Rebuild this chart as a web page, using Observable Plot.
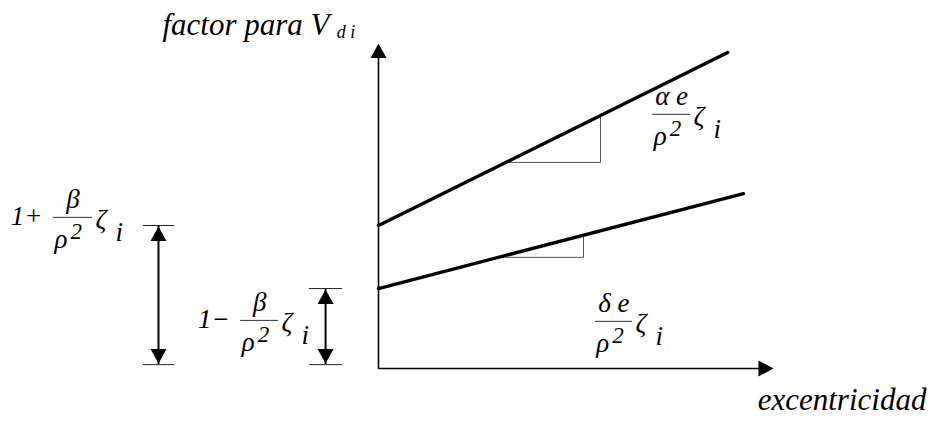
<!DOCTYPE html>
<html>
<head>
<meta charset="utf-8">
<script src="https://cdn.jsdelivr.net/npm/d3@7"></script>
<script src="https://cdn.jsdelivr.net/npm/@observablehq/plot@0.6"></script>
<style>
  html, body { margin: 0; padding: 0; background: #fff; }
  #chart svg { display: block; }
  #chart svg text { font-family: "Liberation Serif", "Times New Roman", "DejaVu Serif", serif !important; font-style: italic; }
</style>
</head>
<body>
<div id="chart"></div>
<script>
// ---- data (axis origin = 0, arrow tips = 100) ----
const upperLineX = [0, 88.4];
const upperLineY = [44.0, 97.2];
const lowerLineX = [0, 92.4];
const lowerLineY = [24.6, 53.8];

const upperSlopeX = [32.2, 56.2, 56.2];
const upperSlopeY = [63.4, 63.4, 77.8];
const lowerSlopeX = [30.4, 51.9, 51.9];
const lowerSlopeY = [34.2, 34.2, 41.0];

const axisX = [0, 0, 100];
const axisY = [100, 0, 0];

const dimX = [-55.7, -13.4];
const dimTop = [44.0, 24.6];
const dimBottom = [1.2, 1.2];
const dimTickX1 = [-59.5, -17.5];
const dimTickX2 = [-51.6, -9.1];

const formulaX1 = [-82.3, -34.9, 69.4, 54.9];
const formulaX2 = [-72.4, -25.3, 79.0, 64.3];
const formulaY = [46.5, 14.8, 78.2, 14.5];
const prefixes = ["1+", "1\u2212", "", ""];
const numerators = ["\u03B2", "\u03B2", "\u03B1 e", "\u03B4 e"];

const titleText = "factor para V";
const titleSub = "d i";
const titleX = -54.7, titleSubX = -10.6, titleY = 102.5;
const xLabel = "excentricidad";
const xLabelX = 96.0, xLabelY = -12.9;

// ---- arrowhead symbols (tip at origin) ----
const tri = (pts) => ({draw(ctx) { ctx.moveTo(...pts[0]); ctx.lineTo(...pts[1]); ctx.lineTo(...pts[2]); ctx.closePath(); }});
const upHead = tri([[0, 0], [-8, 14.5], [8, 14.5]]);
const downHead = tri([[0, 0], [-8, -14.5], [8, -14.5]]);
const rightHead = tri([[0, 0], [-15, -8], [-15, 8]]);

const idx = d3.range(formulaX1.length);
const dimIdx = d3.range(dimX.length);
const serif = {fontFamily: "Liberation Serif", fontStyle: "italic", fill: "black", lineAnchor: "bottom"};
const fs = 27;

const chart = Plot.plot({
  width: 935,
  height: 421,
  margin: 0,
  x: {domain: [0, 100], range: [378, 773], axis: null},
  y: {domain: [0, 100], range: [368, 43], axis: null},
  style: {background: "white", fontFamily: "Liberation Serif"},
  marks: [
    // axes
    Plot.line(d3.range(3), {x: i => axisX[i] * (i === 1 ? 1 : 0.97), y: i => axisY[i] * (i === 1 ? 1 : 0.97), stroke: "black", strokeWidth: 1.6}),
    Plot.dot([0], {x: () => axisX[0], y: () => axisY[0], symbol: upHead, fill: "black", stroke: null}),
    Plot.dot([0], {x: () => axisX[2], y: () => axisY[2], symbol: rightHead, fill: "black", stroke: null}),
    // slope triangles
    Plot.line(d3.range(3), {x: i => upperSlopeX[i], y: i => upperSlopeY[i], stroke: "#555", strokeWidth: 1}),
    Plot.line(d3.range(3), {x: i => lowerSlopeX[i], y: i => lowerSlopeY[i], stroke: "#555", strokeWidth: 1}),
    // main lines
    Plot.line(d3.range(2), {x: i => upperLineX[i], y: i => upperLineY[i], stroke: "black", strokeWidth: 3.4}),
    Plot.line(d3.range(2), {x: i => lowerLineX[i], y: i => lowerLineY[i], stroke: "black", strokeWidth: 3.4}),
    // dimension lines
    Plot.ruleX(dimIdx, {x: i => dimX[i], y1: i => dimBottom[i], y2: i => dimTop[i], stroke: "black", strokeWidth: 2}),
    Plot.ruleY(dimIdx, {y: i => dimTop[i], x1: i => dimTickX1[i], x2: i => dimTickX2[i], stroke: "#222", strokeWidth: 1}),
    Plot.ruleY(dimIdx, {y: i => dimBottom[i], x1: i => dimTickX1[i], x2: i => dimTickX2[i], stroke: "#222", strokeWidth: 1}),
    Plot.dot(dimIdx, {x: i => dimX[i], y: i => dimTop[i], symbol: upHead, fill: "black", stroke: null, dy: 1}),
    Plot.dot(dimIdx, {x: i => dimX[i], y: i => dimBottom[i], symbol: downHead, fill: "black", stroke: null, dy: -1}),
    // formulas
    Plot.ruleY(idx, {y: i => formulaY[i], x1: i => formulaX1[i], x2: i => formulaX2[i], stroke: "#333", strokeWidth: 1}),
    Plot.text(idx, {x: i => formulaX1[i], y: i => formulaY[i], text: i => prefixes[i], textAnchor: "end", dx: -11, dy: 8, fontSize: fs, ...serif}),
    Plot.text(idx, {x: i => (formulaX1[i] + formulaX2[i]) / 2, y: i => formulaY[i], text: i => numerators[i], textAnchor: "middle", dy: -9, fontSize: fs, ...serif}),
    Plot.text(idx, {x: i => formulaX1[i], y: i => formulaY[i], text: () => "\u03C1", textAnchor: "start", dx: 1, dy: 31, fontSize: fs, ...serif}),
    Plot.text(idx, {x: i => formulaX1[i], y: i => formulaY[i], text: () => "2", textAnchor: "start", dx: 17, dy: 22, fontSize: 23, ...serif}),
    Plot.text(idx, {x: i => formulaX2[i], y: i => formulaY[i], text: () => "\u03B6", textAnchor: "start", dx: 3, dy: 11, fontSize: fs, ...serif}),
    Plot.text(idx, {x: i => formulaX2[i], y: i => formulaY[i], text: () => "i", textAnchor: "start", dx: 23, dy: 24, fontSize: fs, ...serif}),
    // titles
    Plot.text([0], {x: () => titleX, y: () => titleY, text: () => titleText, textAnchor: "start", fontSize: 31, ...serif}),
    Plot.text([0], {x: () => titleSubX, y: () => titleY, text: () => titleSub, textAnchor: "start", dy: 3, fontSize: 18, ...serif}),
    Plot.text([0], {x: () => xLabelX, y: () => xLabelY, text: () => xLabel, textAnchor: "start", fontSize: 31, ...serif})
  ]
});
document.getElementById("chart").appendChild(chart);
</script>
</body>
</html>
